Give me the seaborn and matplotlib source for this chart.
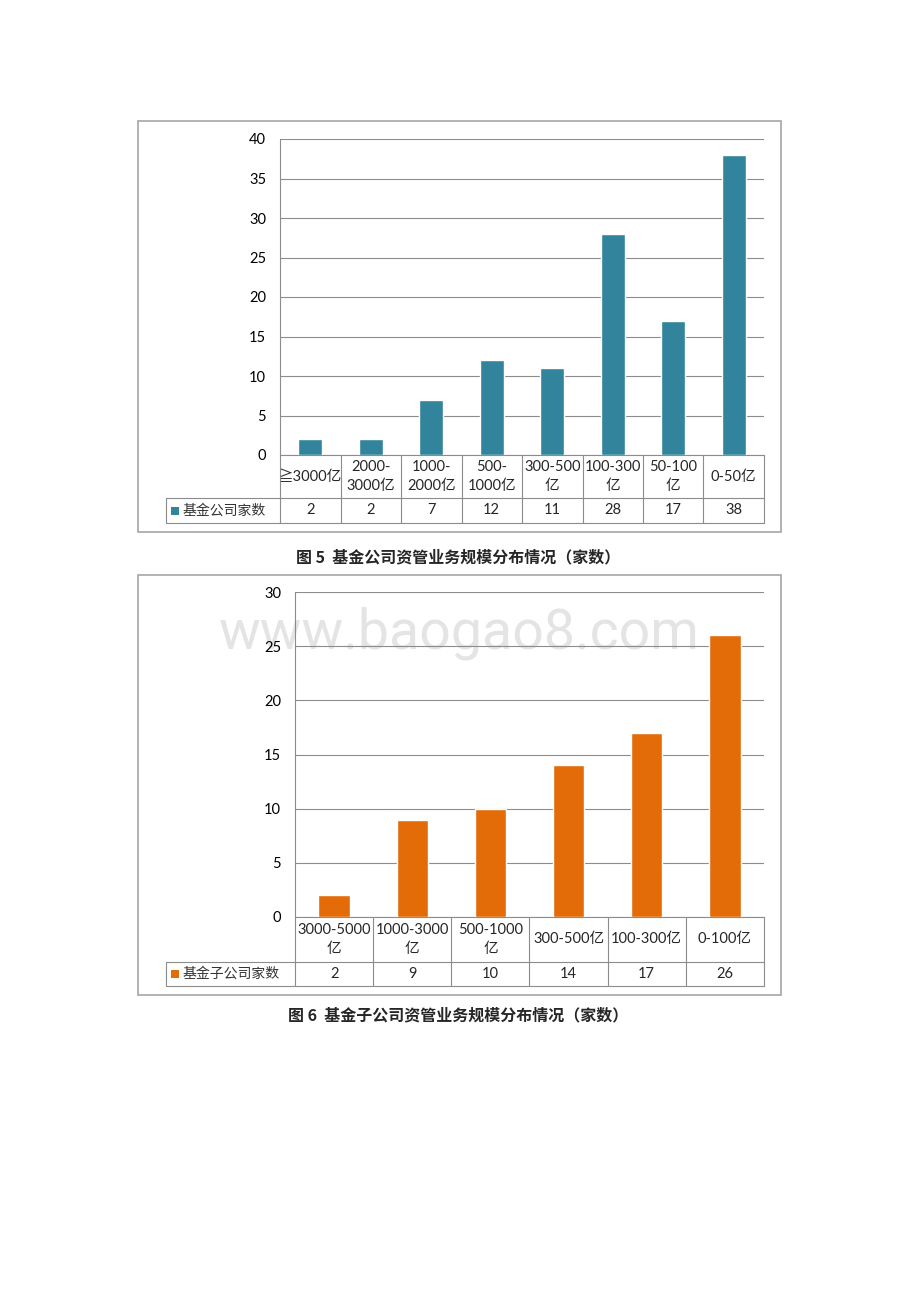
import matplotlib.pyplot as plt
import matplotlib.transforms as mtransforms
from matplotlib.lines import Line2D
from matplotlib.patches import Rectangle
import seaborn as sns

sns.set_theme(style='white')
plt.rcParams['font.family'] = ['Lato', 'Noto Sans CJK SC', 'DejaVu Sans']

W, H = 920, 1302

# chart data
cats_company = ['≧3000亿', '2000-\n3000亿', '1000-\n2000亿', '500-\n1000亿',
                '300-500\n亿', '100-300\n亿', '50-100\n亿', '0-50亿']
counts_company = [2, 2, 7, 12, 11, 28, 17, 38]
cats_sub = ['3000-5000\n亿', '1000-3000\n亿', '500-1000\n亿', '300-500亿', '100-300亿', '0-100亿']
counts_sub = [2, 9, 10, 14, 17, 26]
series_company = '基金公司家数'
series_sub = '基金子公司家数'
caption_company = '图 5  基金公司资管业务规模分布情况（家数）'
caption_sub = '图 6  基金子公司资管业务规模分布情况（家数）'

GRID = '#8C8C8C'
FRAME = '#A6A6A6'


def fx(px):
    return px / W


def fy(py):
    return 1 - py / H


def draw_panel(fig, frame, plot, rows, legend_x, cats, vals, color, ymax, label, caption, cap_y):
    # outer frame of the chart
    x0, y0, x1, y1 = frame
    fig.add_artist(Rectangle((fx(x0), fy(y1)), (x1 - x0) / W, (y1 - y0) / H,
                             transform=fig.transFigure, fill=False, ec=FRAME, lw=1.2))

    px0, py0, px1, py1 = plot
    ax = fig.add_axes([fx(px0), fy(py1), (px1 - px0) / W, (py1 - py0) / H])
    ax.patch.set_alpha(0)
    sns.barplot(x=cats, y=vals, color=color, saturation=1, width=0.4, ax=ax, zorder=3)
    n = len(cats)
    ax.set_xlim(-0.5, n - 0.5)
    ax.set_ylim(0, ymax)
    ax.set_yticks(range(0, ymax + 1, 5))
    ax.set_xticks([])
    ax.set_xlabel('')
    ax.set_ylabel('')
    ax.yaxis.grid(True, color=GRID, lw=0.8)
    ax.set_axisbelow(True)
    for s in ['top', 'right']:
        ax.spines[s].set_visible(False)
    for s in ['left', 'bottom']:
        ax.spines[s].set_color(GRID)
        ax.spines[s].set_linewidth(0.8)
    ax.tick_params(axis='y', length=0, pad=10, labelsize=10.5, labelcolor='black')

    # data table under the axis
    r1, r2 = rows
    tr = mtransforms.blended_transform_factory(ax.transData, fig.transFigure)
    for i in range(n + 1):
        fig.add_artist(Line2D([i - 0.5, i - 0.5], [fy(py1), fy(r2)], transform=tr,
                              color=GRID, lw=0.8))
    for yy in (r1, r2):
        fig.add_artist(Line2D([fx(legend_x), fx(px1)], [fy(yy), fy(yy)],
                              transform=fig.transFigure, color=GRID, lw=0.8))
    fig.add_artist(Line2D([fx(legend_x), fx(legend_x)], [fy(r1), fy(r2)],
                          transform=fig.transFigure, color=GRID, lw=0.8))
    for i, (c, v) in enumerate(zip(cats, vals)):
        fig.text(i, fy((py1 + r1) / 2), c, transform=tr, ha='center', va='center',
                 fontsize=10.5, linespacing=1.45)
        fig.text(i, fy((r1 + r2) / 2), str(v), transform=tr, ha='center', va='center',
                 fontsize=10.5)

    # legend key in the table
    mid = (r1 + r2) / 2
    fig.add_artist(Rectangle((fx(legend_x + 5), fy(mid + 4)), 8 / W, 8 / H,
                             transform=fig.transFigure, color=color, lw=0))
    fig.text(fx(legend_x + 17), fy(mid), label, ha='left', va='center', fontsize=10,
             family=['Noto Sans CJK SC'], color='#333333')

    fig.text(fx(458), fy(cap_y), caption, ha='center', va='center', fontsize=11.5,
             fontweight='bold', family=['Noto Sans CJK SC', 'DejaVu Sans'])
    return ax


fig = plt.figure(figsize=(W / 100, H / 100), dpi=100)
fig.patch.set_facecolor('white')

draw_panel(fig, (138, 121, 781, 532), (280, 139, 764, 455), (498, 523), 166,
           cats_company, counts_company, '#31849B', 40, series_company, caption_company, 557)
draw_panel(fig, (138, 575, 781, 995), (295, 592, 764, 917), (962, 986), 166,
           cats_sub, counts_sub, '#E36C09', 30, series_sub, caption_sub, 1015)

# watermark of the source page
fig.text(fx(459), fy(633), 'www.baogao8.com', ha='center', va='center', fontsize=40,
         color='#E4E4E4', family=['Roboto'], zorder=-1)

fig.savefig('out.png', dpi=100, facecolor='white')
